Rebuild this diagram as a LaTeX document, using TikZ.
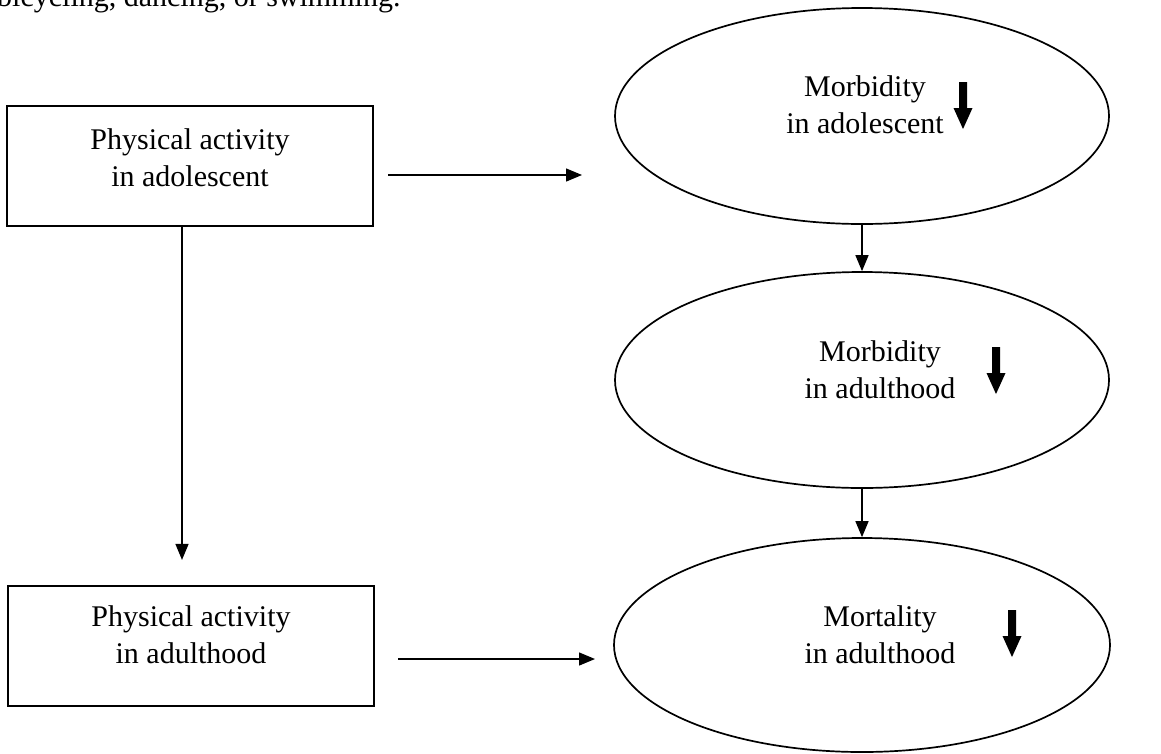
\documentclass[tikz,border=0pt]{standalone}
\usepackage{fontspec}
\setmainfont{Liberation Serif}
\usetikzlibrary{arrows.meta,shapes.geometric}
\begin{document}
\begin{tikzpicture}[x=1pt,y=-1pt,
  every node/.style={font=\fontsize{30}{37}\selectfont},
  boxnode/.style={draw, line width=2.2pt, minimum width=366pt, minimum height=120pt, inner sep=0pt},
  ellnode/.style={draw, ellipse, line width=1.7pt, minimum width=494pt, minimum height=216pt, inner sep=0pt},
  txt/.style={align=center, inner sep=0pt},
  conn/.style={line width=1.4pt, -{Triangle[length=16pt,width=13pt]}},
  fatarrow/.pic={\fill (-4,0) -- (4,0) -- (4,26) -- (9.5,26) -- (0,47) -- (-9.5,26) -- (-4,26) -- cycle;}
  ]
\useasboundingbox (0,0) rectangle (1161,753);
\fill[white] (0,0) rectangle (1161,753);

\begin{scope}
\clip (0,0) rectangle (1161,753);
\node[anchor=base west, inner sep=0pt] (toptext) at (-3,6) {bicycling, dancing, or swimming.};
\end{scope}

% boxes
\node[boxnode] (b1) at (190,166) {};
\node[txt] (b1t) at (190,158) {Physical activity\\in adolescent};
\node[boxnode] (b2) at (191,646) {};
\node[txt] (b2t) at (191,635) {Physical activity\\in adulthood};

% ellipses
\node[ellnode] (e1) at (862,116) {};
\node[txt] (e1t) at (865,105) {Morbidity\\in adolescent};
\node[ellnode] (e2) at (862,380) {};
\node[txt] (e2t) at (880,370) {Morbidity\\in adulthood};
\node[ellnode, minimum width=496pt, minimum height=214pt] (e3) at (862,645) {};
\node[txt] (e3t) at (880,635) {Mortality\\in adulthood};

% fat down arrows
\pic (fa1) at (963,82) {fatarrow};
\pic (fa2) at (996,347) {fatarrow};
\pic (fa3) at (1012,610) {fatarrow};

% connectors
\coordinate (a1end) at (582,175);
\coordinate (a2end) at (595,659);
\draw[conn, shorten <=14pt] ([yshift=-9pt]b1.east) -- (a1end);
\draw[conn, shorten <=23pt] ([yshift=-13pt]b2.east) -- (a2end);
\draw[conn, shorten >=25pt] ([xshift=-8pt]b1.south) -- ([xshift=-9pt]b2.north);
\draw[conn] (e1.south) -- (e2.north);
\draw[conn] (e2.south) -- (e3.north);
\end{tikzpicture}
\end{document}
